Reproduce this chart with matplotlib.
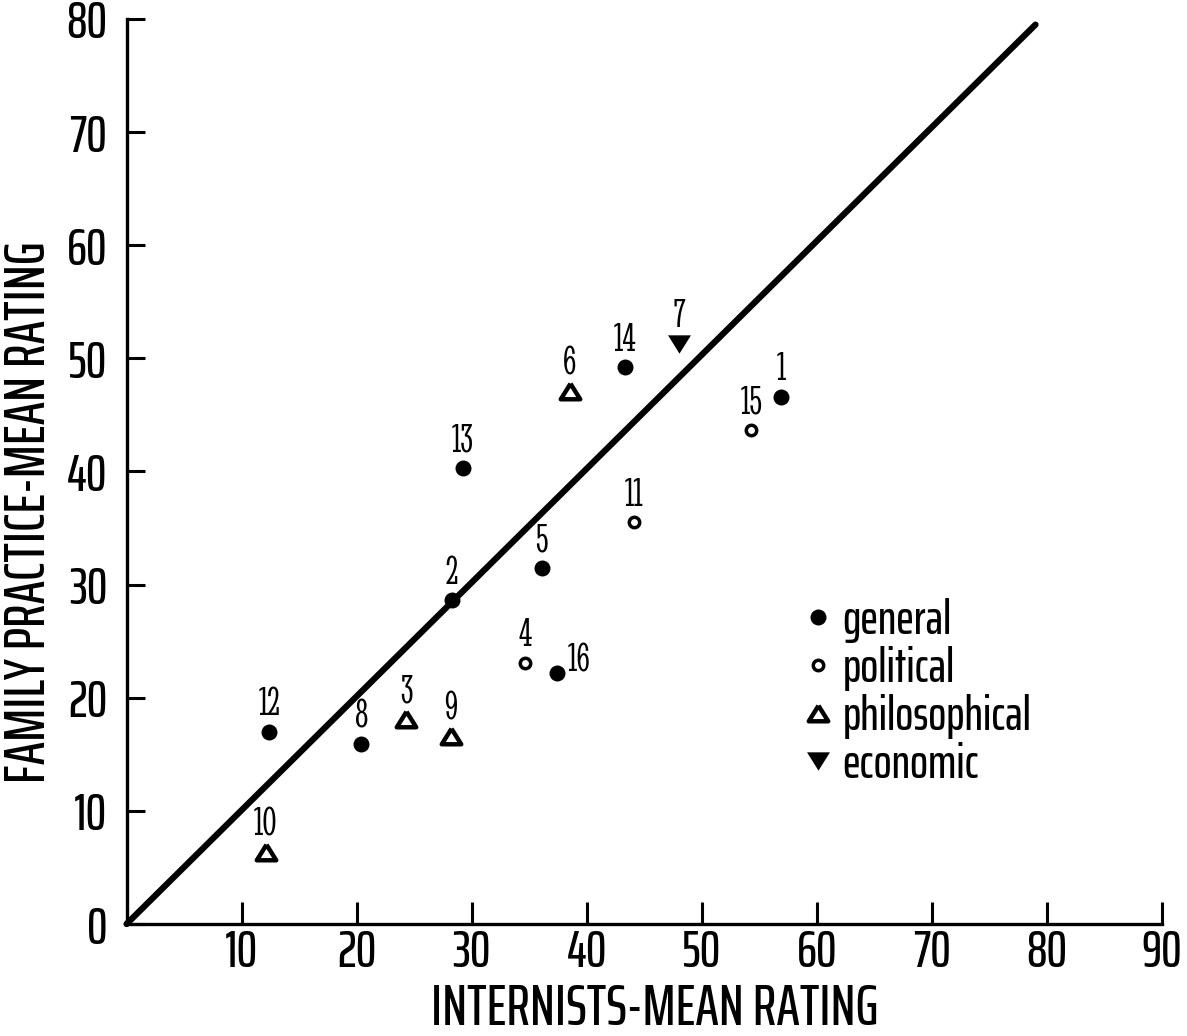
import matplotlib
matplotlib.use('Agg')
import matplotlib.pyplot as plt
from matplotlib.markers import MarkerStyle

# mean rating of each item by internists (x) and family practitioners (y)
item_ids = [1, 2, 3, 4, 5, 6, 7, 8, 9, 10, 11, 12, 13, 14, 15, 16]
internists = [56.9, 28.3, 24.3, 34.6, 36.1, 38.5, 48.0, 20.4, 28.2, 12.1,
              44.1, 12.4, 29.2, 43.3, 54.3, 37.4]
family_practice = [46.6, 28.6, 18.1, 23.1, 31.5, 47.1, 51.3, 15.9, 16.6, 6.4,
                   35.5, 17.0, 40.3, 49.2, 43.7, 22.2]
item_type = ['general', 'general', 'philosophical', 'political', 'general',
             'philosophical', 'economic', 'general', 'philosophical',
             'philosophical', 'political', 'general', 'general', 'general',
             'political', 'general']
categories = ['general', 'political', 'philosophical', 'economic']

# line of equal ratings
line_x = [0, 79]
line_y = [0, 79.5]

x_ticks = [10, 20, 30, 40, 50, 60, 70, 80, 90]
y_ticks = [0, 10, 20, 30, 40, 50, 60, 70, 80]

sans = ['Saira ExtraCondensed', 'Fira Sans Extra Condensed', 'Liberation Sans', 'DejaVu Sans']
serif = ['Stint Ultra Condensed', 'TeX Gyre Schola', 'Liberation Serif', 'DejaVu Serif']

up_tri = MarkerStyle([(0, 0.8), (-1, -0.8), (1, -0.8), (0, 0.8)], joinstyle='round')
down_tri = MarkerStyle([(0, -0.8), (-1, 0.8), (1, 0.8), (0, -0.8)], joinstyle='round')
styles = {
    'general': dict(marker='o', ms=11.5, mfc='black', mec='black', mew=0),
    'political': dict(marker='o', ms=7.5, mfc='white', mec='black', mew=2.5),
    'philosophical': dict(marker=up_tri, ms=14, mfc='white', mec='black', mew=3.2),
    'economic': dict(marker=down_tri, ms=16.5, mfc='black', mec='black', mew=0),
}

fig = plt.figure(figsize=(11.87, 10.36), dpi=100)
ax = fig.add_axes([0.1066, 0.1081, 0.8724, 0.8736])

ax.plot(line_x, line_y, color='black', lw=4.5, solid_capstyle='round',
        clip_on=False, zorder=2)

for cat in categories:
    xs = [x for x, t in zip(internists, item_type) if t == cat]
    ys = [y for y, t in zip(family_practice, item_type) if t == cat]
    ax.plot(xs, ys, linestyle='none', label=cat, clip_on=False, zorder=3,
            **styles[cat])

for i, x, y in zip(item_ids, internists, family_practice):
    if i == 16:
        ax.annotate(str(i), (x, y), xytext=(8, 8), textcoords='offset points',
                    ha='left', va='center', fontsize=30, family=serif)
    else:
        ax.annotate(str(i), (x, y), xytext=(0, 19), textcoords='offset points',
                    ha='center', va='center', fontsize=30, family=serif)

ax.set_xlim(0, 90)
ax.set_ylim(0, 80)
ax.set_xticks(x_ticks)
ax.set_yticks(y_ticks)
ax.spines['top'].set_visible(False)
ax.spines['right'].set_visible(False)
for side in ['left', 'bottom']:
    ax.spines[side].set_linewidth(2.4)
ax.tick_params(axis='x', direction='in', length=16, width=2.2, pad=3)
ax.tick_params(axis='y', direction='in', length=13, width=2.2, pad=14)
for lab in ax.get_xticklabels() + ax.get_yticklabels():
    lab.set_fontfamily(sans)
    lab.set_fontweight('medium')
    lab.set_fontsize(37)

ax.set_xlabel('INTERNISTS-MEAN RATING', fontsize=41, family=sans, weight='medium')
ax.set_ylabel('FAMILY PRACTICE-MEAN RATING', fontsize=41, family=sans, weight='medium')
ax.xaxis.label.set_va('baseline')
ax.yaxis.label.set_va('baseline')
ax.xaxis.set_label_coords(0.51, -0.112)
ax.yaxis.set_label_coords(-0.0787, 0.455)

ax.legend(loc='upper left', bbox_to_anchor=(0.6538, 0.3602), frameon=False,
          prop={'family': sans, 'size': 34, 'weight': 'medium'}, handlelength=0.6,
          handletextpad=0.22, labelspacing=0.06, borderpad=0, borderaxespad=0)

fig.savefig('out.png', dpi=100)
